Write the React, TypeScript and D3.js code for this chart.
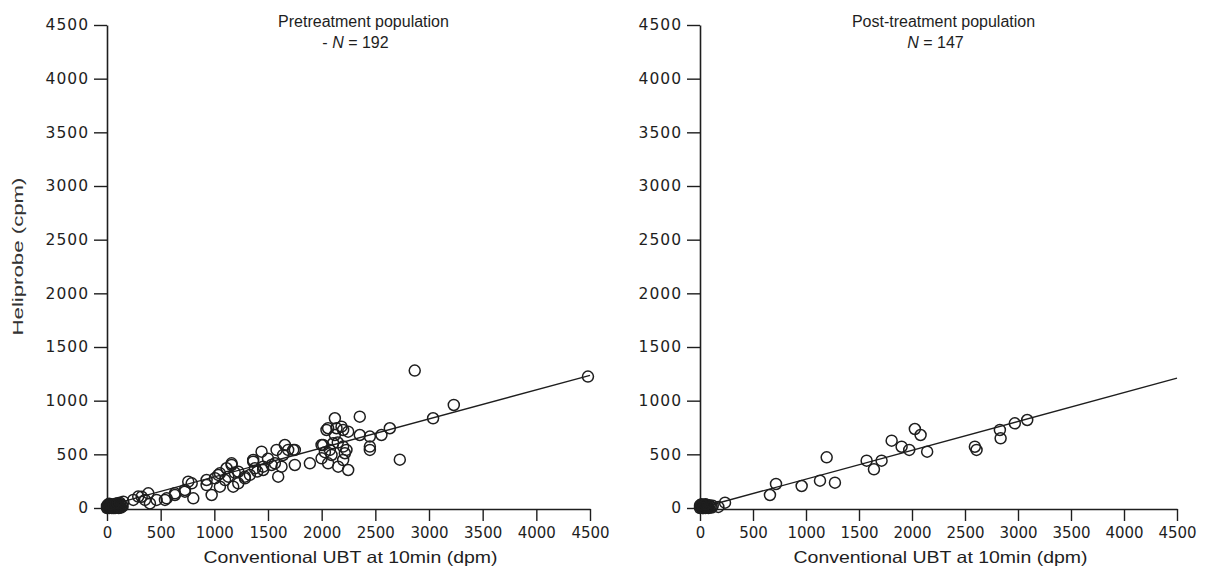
import React, { useRef, useEffect } from 'react';
import * as d3 from 'd3';

// axis ticks (same on both panels)
const xTicks = [0, 500, 1000, 1500, 2000, 2500, 3000, 3500, 4000, 4500];
const yTicks = [0, 500, 1000, 1500, 2000, 2500, 3000, 3500, 4000, 4500];

// pretreatment population, [conventional UBT dpm, heliprobe cpm]
const preNearZero = [
  [0, 0], [5, 10], [10, 5], [15, 20], [20, 0], [25, 15], [30, 5], [35, 25], [40, 10], [45, 0],
  [50, 20], [55, 5], [60, 15], [65, 30], [70, 10], [75, 0], [80, 20], [85, 5], [90, 25], [95, 15],
  [100, 10], [105, 30], [110, 0], [115, 20], [120, 10], [125, 35], [130, 5], [140, 25], [145, 15],
  [0, 20], [10, 30], [20, 40], [30, 15], [40, 35], [60, 0], [80, 40], [100, 45], [120, 50],
];
const prePoints = [
  [152, 59], [245, 75], [291, 106], [323, 105], [354, 75], [385, 137], [400, 43], [462, 75],
  [540, 75], [556, 90], [633, 121], [633, 137], [726, 152], [726, 168], [757, 245], [789, 230],
  [804, 90], [928, 214], [928, 261], [975, 121], [1006, 277], [1037, 308], [1052, 199], [1052, 323],
  [1114, 370], [1130, 292], [1161, 401], [1161, 416], [1176, 199], [1223, 230], [1223, 338],
  [1285, 277], [1285, 292], [1331, 308], [1362, 432], [1362, 447], [1378, 370], [1440, 525],
  [1455, 354], [1455, 385], [1533, 401], [1564, 416], [1580, 541], [1595, 292], [1626, 385],
  [1641, 494], [1657, 587], [1688, 541], [1735, 541], [1750, 401], [1750, 541], [1890, 416],
  [1999, 463], [1999, 587], [2014, 587], [2045, 727], [2060, 416], [2060, 743], [2076, 541],
  [2092, 494], [2107, 603], [2123, 836], [2123, 680], [2138, 743], [2154, 385], [2185, 758],
  [2200, 572], [2200, 447], [2200, 727], [2216, 510], [2231, 541], [2247, 711], [2247, 354],
  [2355, 851], [2355, 680], [2449, 665], [2449, 541], [2449, 572], [2557, 680], [2635, 743],
  [2728, 450], [2867, 1280], [3038, 836], [3231, 960], [4481, 1224],
  [1100, 260], [1190, 330], [1400, 340], [1500, 460], [2150, 610], [2030, 520],
];
const preLine = [[0, 20], [4500, 1235]];

// post-treatment population
const postNearZero = [
  [0, 0], [5, 10], [10, 20], [15, 5], [20, 15], [25, 0], [30, 25], [35, 10], [40, 5], [45, 20],
  [50, 0], [55, 15], [60, 30], [65, 5], [70, 20], [75, 10], [80, 0], [90, 25], [100, 15], [110, 5],
  [120, 20], [0, 25], [15, 35], [30, 0], [50, 35],
];
const postPoints = [
  [173, 10], [236, 50], [660, 121], [717, 224], [959, 205], [1132, 255], [1195, 472], [1273, 236],
  [1572, 441], [1641, 360], [1713, 441], [1808, 627], [1902, 571], [1974, 541], [2027, 736],
  [2081, 680], [2143, 525], [2593, 571], [2609, 541], [2829, 727], [2836, 649], [2970, 789],
  [3087, 820],
];
const postLine = [[0, 0], [4500, 1210]];

const panels = [
  {
    left: 107, right: 590, title: 'Pretreatment population', n: '192', dash: true, shift: 15,
    points: [...preNearZero, ...prePoints], line: preLine,
  },
  {
    left: 700, right: 1177, title: 'Post-treatment population', n: '147', dash: false, shift: 5,
    points: [...postNearZero, ...postPoints], line: postLine,
  },
];

const TOP = 25;
const BOTTOM = 508;
const ink = '#1e1e1e';

const App = () => {
  const ref = useRef<SVGSVGElement | null>(null);

  useEffect(() => {
    if (!ref.current) return;
    const svg = d3.select(ref.current);
    svg.selectAll('*').remove();

    const y = d3.scaleLinear().domain([0, 4500]).range([BOTTOM, TOP]);
    const fmt = d3.format('d');

    panels.forEach((p, i) => {
      const x = d3.scaleLinear().domain([0, 4500]).range([p.left, p.right]);
      const g = svg.append('g');

      const yAxis = g.append('g')
        .attr('transform', `translate(${p.left},0)`)
        .call(d3.axisLeft(y).tickValues(yTicks).tickFormat(fmt).tickSize(13).tickSizeOuter(0).tickPadding(5));
      yAxis.select('.domain').attr('stroke', ink).attr('stroke-width', 1.6);
      yAxis.selectAll('.tick line').attr('stroke', ink).attr('stroke-width', 1.4);
      yAxis.selectAll('.tick text')
        .attr('fill', ink)
        .style('font-family', 'DejaVu Sans')
        .style('font-size', '15.5px')
        .style('letter-spacing', '1px');

      const xAxis = g.append('g')
        .attr('transform', `translate(0,${BOTTOM + 1})`)
        .call(d3.axisBottom(x).tickValues(xTicks).tickFormat(fmt).tickSize(12).tickSizeOuter(0).tickPadding(6));
      xAxis.select('.domain').attr('stroke', ink).attr('stroke-width', 1.6);
      xAxis.selectAll('.tick line').attr('stroke', ink).attr('stroke-width', 1.4);
      xAxis.selectAll('.tick text')
        .attr('fill', ink)
        .style('font-family', 'DejaVu Sans')
        .style('font-size', '15px');

      // regression line
      const line = d3.line<number[]>().x(d => x(d[0])).y(d => y(d[1]));
      g.append('path')
        .datum(p.line)
        .attr('d', line)
        .attr('fill', 'none')
        .attr('stroke', ink)
        .attr('stroke-width', 1.4);

      g.selectAll('circle')
        .data(p.points)
        .enter().append('circle')
        .attr('cx', d => x(d[0]))
        .attr('cy', d => y(d[1]))
        .attr('r', 5.5)
        .attr('fill', 'none')
        .attr('stroke', ink)
        .attr('stroke-width', 1.5);

      const cx = (p.left + p.right) / 2;
      g.append('text')
        .attr('x', cx + 2)
        .attr('y', 563)
        .attr('text-anchor', 'middle')
        .attr('fill', ink)
        .attr('textLength', 294)
        .attr('lengthAdjust', 'spacingAndGlyphs')
        .style('font-family', 'Liberation Sans')
        .style('font-size', '16.5px')
        .text('Conventional UBT at 10min (dpm)');

      g.append('text')
        .attr('x', cx + p.shift)
        .attr('y', 27)
        .attr('text-anchor', 'middle')
        .attr('fill', ink)
        .style('font-family', 'Liberation Sans')
        .style('font-size', '16px')
        .text(p.title);

      const nt = g.append('text')
        .attr('x', cx + p.shift - 8)
        .attr('y', 48)
        .attr('text-anchor', 'middle')
        .attr('fill', ink)
        .style('font-family', 'Liberation Sans')
        .style('font-size', '16px');
      if (p.dash) nt.append('tspan').text('-   ');
      nt.append('tspan').style('font-style', 'italic').text('N');
      nt.append('tspan').text(` = ${p.n}`);

      if (i === 0) {
        g.append('text')
          .attr('transform', `translate(23,${(TOP + BOTTOM) / 2 - 10}) rotate(-90)`)
          .attr('text-anchor', 'middle')
          .attr('fill', '#333')
          .attr('textLength', 158)
          .attr('lengthAdjust', 'spacingAndGlyphs')
          .style('font-family', 'Liberation Sans')
          .style('font-size', '14px')
          .text('Heliprobe (cpm)');
      }
    });
  }, []);

  return (
    <svg
      ref={ref}
      width={1208}
      height={571}
      style={{ position: 'absolute', left: 0, top: 0, background: '#fff' }}
    />
  );
};

export default App;
